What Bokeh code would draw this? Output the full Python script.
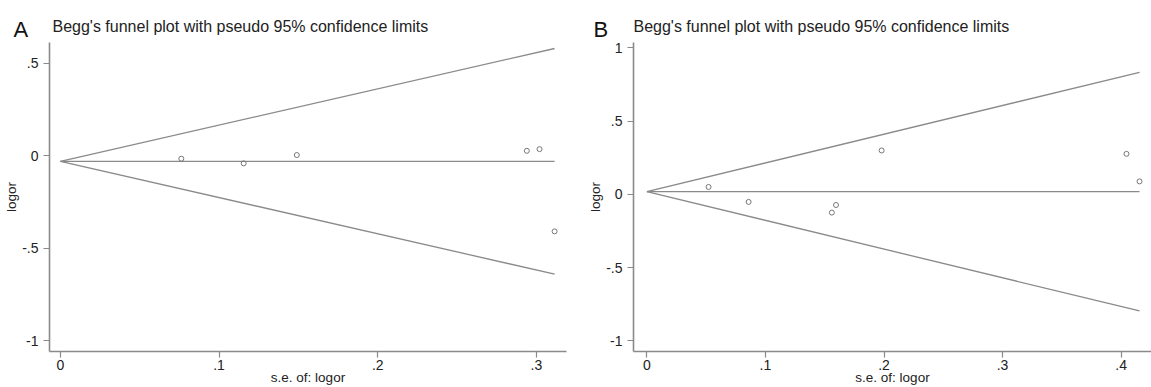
from bokeh.plotting import figure
from bokeh.layouts import row
from bokeh.models import Label, FixedTicker, Range1d
from bokeh.embed import file_html
from bokeh.resources import INLINE

# ---- data ----
se_a = [0.0762, 0.1155, 0.149, 0.294, 0.302, 0.3115]
logor_a = [-0.016, -0.041, 0.004, 0.027, 0.036, -0.409]
pooled_a = -0.03

se_b = [0.052, 0.0858, 0.156, 0.1595, 0.198, 0.4045, 0.4155]
logor_b = [0.050, -0.052, -0.125, -0.073, 0.299, 0.276, 0.088]
pooled_b = 0.018

title_text = "Begg's funnel plot with pseudo 95% confidence limits"
x_label = "s.e. of: logor"
y_label = "logor"

xticks_a = [0, 0.1, 0.2, 0.3]
xtick_labels_a = ["0", ".1", ".2", ".3"]
yticks_a = [-1, -0.5, 0, 0.5]
ytick_labels_a = ["-1", "-.5", "0", ".5"]

xticks_b = [0, 0.1, 0.2, 0.3, 0.4]
xtick_labels_b = ["0", ".1", ".2", ".3", ".4"]
yticks_b = [-1, -0.5, 0, 0.5, 1]
ytick_labels_b = ["-1", "-.5", "0", ".5", "1"]

FONT = "Liberation Sans"
GRAY = "#8a8a8a"
TXT = "#222222"
H = 387
TOP = 41  # frame top border (px)


def funnel(letter, se, logor, pooled, xticks, xlabels, yticks, ylabels,
           xr, yr, width, bl, br, bb, letter_px, title_px):
    p = figure(width=width, height=H, output_backend="svg",
               toolbar_location=None, x_range=Range1d(*xr), y_range=Range1d(*yr),
               min_border_left=bl, min_border_right=br,
               min_border_top=TOP, min_border_bottom=bb)
    p.outline_line_color = None
    p.grid.visible = False
    for ax, ticks, labels in ((p.xaxis, xticks, xlabels), (p.yaxis, yticks, ylabels)):
        ax.ticker = FixedTicker(ticks=ticks)
        ax.major_label_overrides = {t: l for t, l in zip(ticks, labels)}
        ax.minor_tick_line_color = None
        ax.axis_line_color = GRAY
        ax.axis_line_width = 1.6
        ax.major_tick_line_color = GRAY
        ax.major_tick_line_width = 1.2
        ax.major_tick_out = 6
        ax.major_tick_in = 0
        ax.major_label_text_font = FONT
        ax.major_label_text_font_size = "14px"
        ax.major_label_text_color = TXT
        ax.axis_label_text_font = FONT
        ax.axis_label_text_font_size = "13.5px"
        ax.axis_label_text_font_style = "normal"
        ax.axis_label_text_color = TXT
    p.xaxis.axis_label = x_label
    p.yaxis.axis_label = y_label
    p.xaxis.major_label_standoff = 2
    p.xaxis.axis_label_standoff = -3
    p.yaxis.major_label_standoff = 5
    p.yaxis.axis_label_standoff = 0
    p.yaxis.major_label_orientation = "horizontal"

    smax = max(se)
    p.line([0, smax], [pooled, pooled], line_color=GRAY, line_width=1.3)
    p.line([0, smax], [pooled, pooled + 1.96 * smax], line_color=GRAY, line_width=1.3)
    p.line([0, smax], [pooled, pooled - 1.96 * smax], line_color=GRAY, line_width=1.3)
    p.scatter(se, logor, marker="circle", size=5, fill_color=None,
              line_color="#777777", line_width=1)

    # convert pixel offsets (from frame left / page top) into data coordinates
    fw = width - bl - br
    fh = H - TOP - bb
    xs = (xr[1] - xr[0]) / fw
    ys = (yr[1] - yr[0]) / fh

    def dx(px):
        return xr[0] + px * xs

    def dy(page_y):
        return yr[1] + (TOP - page_y) * ys

    p.add_layout(Label(x=dx(letter_px[0]), y=dy(letter_px[1]),
                       text=letter, text_font=FONT, text_font_size="22px",
                       text_baseline="alphabetic", text_color="#111111"), "above")
    p.add_layout(Label(x=dx(title_px[0]), y=dy(title_px[1]),
                       text=title_text, text_font=FONT, text_font_size="16px",
                       text_baseline="alphabetic", text_color=TXT), "above")
    return p


pA = funnel("A", se_a, logor_a, pooled_a, xticks_a, xtick_labels_a,
            yticks_a, ytick_labels_a, (-0.0069, 0.319), (-1.059, 0.613),
            575, 49, 9, 35, (-36, 28), (3, 25))
pB = funnel("B", se_b, logor_b, pooled_b, xticks_b, xtick_labels_b,
            yticks_b, ytick_labels_b, (-0.0113, 0.4256), (-1.073, 1.036),
            576, 58, 0, 36, (-40, 28), (0, 25))

layout = row(pA, pB)
open("out.html", "w").write(file_html(layout, INLINE))
